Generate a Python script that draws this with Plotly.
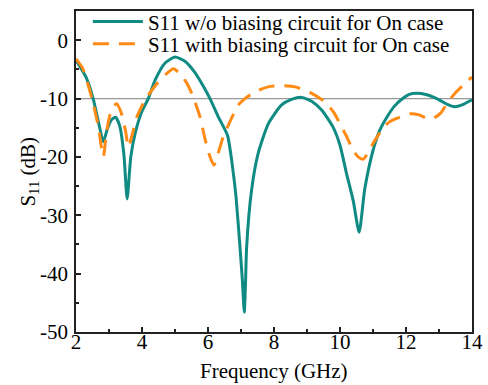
import plotly.graph_objects as go

freq_a = [2.0, 2.3, 2.52, 2.68, 2.83, 2.95, 3.08, 3.2, 3.32, 3.45, 3.55, 3.66, 3.79, 3.99, 4.19, 4.4, 4.7, 5.0, 5.3, 5.6, 5.85, 6.06, 6.3, 6.59, 6.75, 6.85, 6.97, 7.04, 7.1, 7.14, 7.17, 7.32, 7.52, 7.83, 8.23, 8.55, 8.84, 9.15, 9.45, 9.79, 10.0, 10.2, 10.4, 10.58, 10.75, 11.0, 11.2, 11.42, 11.65, 11.9, 12.1, 12.32, 12.6, 12.85, 13.03, 13.25, 13.48, 13.7, 13.9, 14.0]
s11_a = [-3.4, -6.3, -10.0, -14.0, -17.4, -15.2, -13.6, -13.2, -14.6, -19.5, -27.2, -20.0, -16.0, -12.3, -10.0, -6.8, -3.9, -2.9, -3.6, -5.5, -7.8, -10.0, -13.0, -16.3, -22.0, -26.9, -35.5, -41.0, -46.6, -41.0, -35.5, -25.7, -19.4, -14.3, -11.1, -10.1, -9.8, -10.5, -12.0, -14.9, -18.0, -22.9, -27.5, -32.9, -25.5, -18.9, -15.5, -13.2, -11.3, -10.0, -9.3, -9.1, -9.3, -9.8, -10.3, -11.0, -11.4, -11.1, -10.5, -10.2]

freq_b = [2.0, 2.2, 2.47, 2.68, 2.76, 2.83, 2.9, 2.98, 3.1, 3.23, 3.38, 3.5, 3.59, 3.72, 3.84, 4.09, 4.4, 4.75, 4.95, 5.2, 5.4, 5.55, 5.75, 5.91, 6.05, 6.18, 6.3, 6.46, 6.59, 6.92, 7.12, 7.45, 7.82, 8.25, 8.64, 9.1, 9.55, 9.8, 10.0, 10.2, 10.4, 10.55, 10.7, 10.85, 11.0, 11.3, 11.5, 11.72, 12.12, 12.4, 12.6, 12.82, 13.05, 13.27, 13.5, 13.75, 14.0]
s11_b = [-3.2, -4.8, -9.7, -14.9, -18.0, -20.0, -17.0, -14.0, -11.6, -10.9, -12.6, -15.5, -18.3, -15.8, -13.2, -10.3, -7.8, -5.7, -4.9, -6.0, -7.8, -9.7, -13.0, -16.9, -19.8, -21.4, -19.5, -16.6, -14.9, -11.1, -10.0, -8.8, -8.0, -7.8, -8.0, -9.0, -10.6, -12.3, -14.3, -16.5, -18.9, -20.0, -20.4, -19.3, -17.7, -15.1, -14.0, -13.4, -12.6, -12.8, -13.3, -13.4, -12.5, -10.6, -9.0, -7.6, -6.3]

x_ticks = [2, 4, 6, 8, 10, 12, 14]
x_tick_labels = ["2", "4", "6", "8", "10", "12", "14"]
y_ticks = [0, -10, -20, -30, -40, -50]
y_tick_labels = ["0", "-10", "-20", "-30", "-40", "-50"]
ref_level = -10
x_title = "Frequency (GHz)"
y_title = "S<sub>11</sub> (dB)"

FONT = "Liberation Serif, Times New Roman, serif"
TEAL = "#0f8b83"
ORANGE = "#ff8a14"
FS = 21

fig = go.Figure()
fig.add_trace(go.Scatter(
    x=freq_a, y=s11_a, mode="lines",
    name="S11 w/o biasing circuit for On case",
    line=dict(color=TEAL, width=3, shape="spline", smoothing=0.6),
    legend="legend",
))
fig.add_trace(go.Scatter(
    x=freq_b, y=s11_b, mode="lines",
    name="S11 with biasing circuit for On case",
    line=dict(color=ORANGE, width=3, dash="16px,10px", shape="spline", smoothing=0.6),
    legend="legend2",
))
fig.add_hline(y=ref_level, line=dict(color="#999999", width=1.2), layer="below")

axis_common = dict(
    showline=True, linecolor="#222222", linewidth=1.5, mirror=True,
    ticks="inside", ticklen=5, tickwidth=1.5, tickcolor="#222222",
    showgrid=False, zeroline=False, automargin=False,
    tickfont=dict(family=FONT, size=FS, color="black"),
    minor=dict(ticks="inside", ticklen=3, tickwidth=1.5, tickcolor="#222222", showgrid=False),
)

fig.update_xaxes(
    range=[2, 14], tickvals=x_ticks, ticktext=x_tick_labels, minor_dtick=1,
    ticklabelstandoff=-10,
    **axis_common,
)
fig.update_yaxes(
    range=[-50, 5], tickvals=y_ticks, ticktext=y_tick_labels, minor_dtick=5,
    ticklabelstandoff=2,
    **axis_common,
)

# axis titles placed as annotations for exact placement
fig.add_annotation(
    text=x_title, xref="paper", yref="paper", x=0.5, y=-0.1215,
    xanchor="center", yanchor="middle", showarrow=False,
    font=dict(family=FONT, size=FS, color="black"),
)
fig.add_annotation(
    text=y_title, xref="paper", yref="paper", x=-0.121, y=0.5,
    xanchor="center", yanchor="middle", showarrow=False, textangle=-90,
    font=dict(family=FONT, size=FS, color="black"),
)

leg_common = dict(
    xanchor="left", yanchor="middle",
    bgcolor="rgba(0,0,0,0)", borderwidth=0,
    font=dict(family=FONT, size=FS, color="black"),
    itemwidth=50,
)

fig.update_layout(
    width=488, height=385,
    margin=dict(l=76, r=16, t=11, b=53, autoexpand=False),
    paper_bgcolor="white", plot_bgcolor="white",
    showlegend=True,
    legend=dict(x=0.03, y=0.966, **leg_common),
    legend2=dict(x=0.03, y=0.897, **leg_common),
)

fig.write_html(
    "out.html",
    config={"displayModeBar": False},
    post_script="document.body.style.margin='0';document.body.style.padding='0';document.body.style.overflow='hidden';",
)
